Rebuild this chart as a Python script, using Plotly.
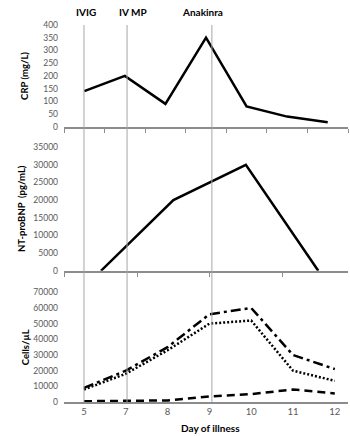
import plotly.graph_objects as go

# ---- data ----
days = [5, 7, 8, 9, 10, 11, 12]
crp = [140, 200, 90, 350, 80, 40, 18]                 # mg/L
ntprobnp = [0, 20000, 30000, 0]                        # pg/mL (4 measurements)
cells_dashdot = [9000, 20000, 35000, 56000, 60000, 30000, 21000]
cells_dot = [8000, 18000, 33000, 50000, 52000, 20000, 13500]
cells_dash = [500, 800, 1000, 3500, 5000, 8000, 5500]
events = ["IVIG", "IV MP", "Anakinra"]
event_days = [5, 7, 9]
event_shift = [2, 6, -9]

FONT = "Lato, 'Open Sans', sans-serif"
TICKC = "#595959"
AXC = "#8c8c8c"

fig = go.Figure()
idx = list(range(len(days)))
fig.add_trace(go.Scatter(x=idx, y=crp, mode="lines", line=dict(color="black", width=2.5),
                         xaxis="x", yaxis="y", showlegend=False))
fig.add_trace(go.Scatter(x=list(range(len(ntprobnp))), y=ntprobnp, mode="lines",
                         line=dict(color="black", width=2.5), xaxis="x2", yaxis="y2", showlegend=False))
fig.add_trace(go.Scatter(x=idx, y=cells_dashdot, mode="lines",
                         line=dict(color="black", width=2.5, dash="10px,4px,3px,4px"),
                         xaxis="x3", yaxis="y3", showlegend=False))
fig.add_trace(go.Scatter(x=idx, y=cells_dot, mode="lines",
                         line=dict(color="black", width=2.5, dash="2px,2px"),
                         xaxis="x3", yaxis="y3", showlegend=False))
fig.add_trace(go.Scatter(x=idx, y=cells_dash, mode="lines",
                         line=dict(color="black", width=2.5, dash="8px,5px"),
                         xaxis="x3", yaxis="y3", showlegend=False))

n1 = len(crp)
n2 = len(ntprobnp)
xcommon = dict(showgrid=False, zeroline=False, showline=True, linecolor=AXC, linewidth=1.5,
               tickfont=dict(family=FONT, size=9.5, color=TICKC))
ycommon = dict(showgrid=False, zeroline=False, showline=False, ticks="", tickformat="d",
               tickfont=dict(family=FONT, size=8.5, color=TICKC), ticklabelstandoff=5)

bx = [i - 0.5 for i in range(n1 + 1)]
bx2 = [i - 0.5 for i in range(n2 + 1)]

fig.update_layout(
    width=350, height=436,
    margin=dict(l=64, r=2, t=25, b=34),
    paper_bgcolor="white", plot_bgcolor="white",
    font=dict(family=FONT),
    xaxis=dict(**xcommon, anchor="y", range=[-0.5, n1 - 0.5], tickmode="array", tickvals=bx,
               showticklabels=False, ticks="outside", ticklen=4, tickcolor=AXC),
    yaxis=dict(**ycommon, domain=[0.73, 1.0], range=[0, 400], dtick=50),
    xaxis2=dict(**xcommon, anchor="y2", range=[-0.51, 3.41], tickmode="array", tickvals=bx2,
                showticklabels=False, ticks="outside", ticklen=4, tickcolor=AXC),
    yaxis2=dict(**ycommon, domain=[0.348, 0.676], range=[0, 35000], dtick=5000),
    xaxis3=dict(**xcommon, anchor="y3", range=[-0.478, 6.316], tickmode="array", tickvals=idx,
                ticktext=[str(d) for d in days], ticks=""),
    yaxis3=dict(**ycommon, domain=[0.0, 0.291], range=[0, 70000], dtick=10000),
)

# event lines and labels (small nudges reproduce the hand-drawn placement in the source)
line_nudge = [0.0, 0.03, 0.06]
for name, d, sh, nd in zip(events, event_days, event_shift, line_nudge):
    xi = days.index(d) + nd
    fig.add_shape(type="line", xref="x3", yref="paper", x0=xi, x1=xi, y0=0, y1=1,
                  line=dict(color="#a6a6a6", width=1))
    fig.add_annotation(text="<b>%s</b>" % name, xref="x3", yref="paper", x=xi, y=1,
                       xanchor="center", yanchor="middle", yshift=13, xshift=sh,
                       showarrow=False, font=dict(family=FONT, size=10, color="black"))

# axis titles
def ytitle(text, y, x):
    fig.add_annotation(text="<b>%s</b>" % text, xref="paper", yref="paper", x=x, y=y,
                       xanchor="center", yanchor="middle", textangle=-90, showarrow=False,
                       font=dict(family=FONT, size=9.5, color="black"))

ytitle("CRP (mg/L)", (0.73 + 1.0) / 2, (25 - 64) / 284)
ytitle("NT-proBNP  (pg/mL)", (0.348 + 0.676) / 2, (22 - 64) / 284)
ytitle("Cells/µL", 0.291 / 2, (25 - 64) / 284)
fig.add_annotation(text="<b>Day of illness</b>", xref="paper", yref="paper",
                   x=(210 - 64) / 284, y=0, yshift=-26, xanchor="center", yanchor="middle",
                   showarrow=False, font=dict(family=FONT, size=10, color="black"))

fig.write_html("out.html")
